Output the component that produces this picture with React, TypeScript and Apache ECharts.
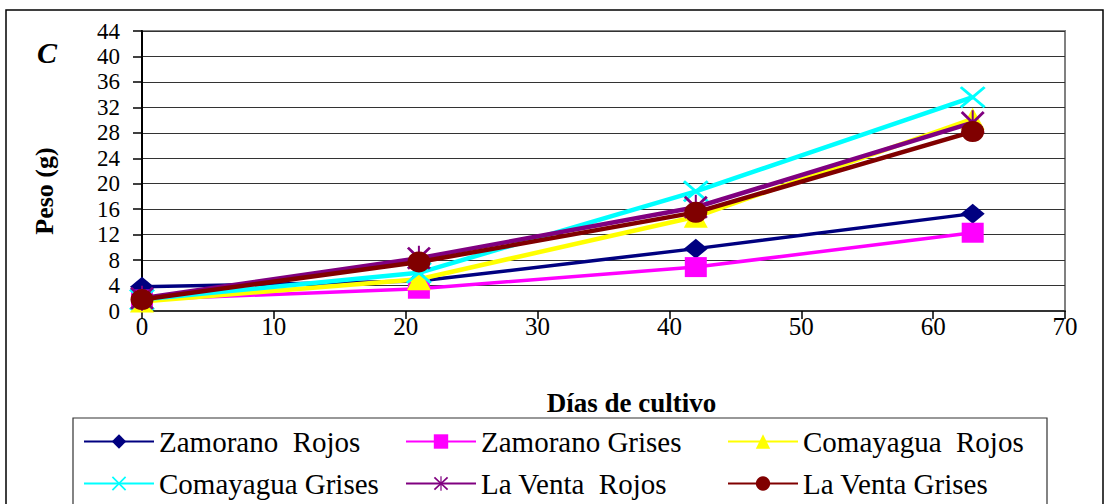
import React, { useEffect, useRef } from "react";
import * as echarts from "echarts";

const days = [0, 21, 42, 63];
const seriesNames = [
  "Zamorano  Rojos",
  "Zamorano Grises",
  "Comayagua  Rojos",
  "Comayagua Grises",
  "La Venta  Rojos",
  "La Venta Grises",
];
const zamoranoRojos = [3.8, 4.7, 9.8, 15.3];
const zamoranoGrises = [1.8, 3.5, 6.9, 12.3];
const comayaguaRojos = [1.5, 5.0, 14.8, 30.2];
const comayaguaGrises = [1.8, 6.0, 18.8, 33.6];
const laVentaRojos = [2.0, 8.3, 16.3, 29.6];
const laVentaGrises = [1.8, 7.7, 15.5, 28.2];
const seriesValues = [
  zamoranoRojos,
  zamoranoGrises,
  comayaguaRojos,
  comayaguaGrises,
  laVentaRojos,
  laVentaGrises,
];
const colors = ["#000080", "#FF00FF", "#FFFF00", "#00FFFF", "#800080", "#800000"];

const X_PATH =
  "path://M0,2L2,0L12,10L22,0L24,2L14,12L24,22L22,24L12,14L2,24L0,22L10,12Z";
const STAR_PATH =
  "path://M0,3L2,1L12,11L22,1L24,3L14,13L24,23L22,25L12,15L2,25L0,23L10,13Z M11,0L13,0L13,26L11,26Z";
const symbols = ["diamond", "rect", "triangle", X_PATH, STAR_PATH, "circle"];
const symbolSizes = [[24, 20], [22, 20], [24, 22], [26, 22], [24, 25], [23, 21]];
const lineWidths = [3.5, 3.5, 4.5, 4.5, 4.5, 4.5];

const FONT = "Liberation Serif";

export default function App() {
  const ref = useRef<HTMLDivElement>(null);
  useEffect(() => {
    if (!ref.current) return;
    const chart = echarts.init(ref.current, null, { renderer: "svg" });
    const colX = [83, 405, 727];
    const rowY = [427, 469];
    const legends = seriesNames.map((name, i) => ({
      data: [name],
      left: colX[i % 3],
      top: rowY[Math.floor(i / 3)],
      orient: "horizontal",
      padding: 0,
      itemWidth: 70,
      itemHeight: 18,
      selectedMode: false,
      textStyle: { fontFamily: FONT, fontSize: 29, color: "#000" },
    }));
    chart.setOption({
      animation: false,
      backgroundColor: "#fff",
      textStyle: { fontFamily: FONT },
      legend: legends,
      grid: {
        left: 142,
        top: 31,
        right: 40,
        bottom: 193,
        show: true,
        borderColor: "#808080",
        borderWidth: 2,
        backgroundColor: "transparent",
      },
      xAxis: {
        type: "value",
        min: 0,
        max: 70,
        interval: 10,
        name: "Días de cultivo",
        nameLocation: "middle",
        nameGap: 78,
        nameTextStyle: {
          fontFamily: FONT,
          fontSize: 27,
          fontWeight: "bold",
          color: "#000",
          padding: [0, 0, 0, 56],
        },
        axisLine: { lineStyle: { color: "#333", width: 2 } },
        axisTick: { show: true, inside: false, length: 8, lineStyle: { color: "#000", width: 1.5 } },
        axisLabel: { fontFamily: FONT, fontSize: 25, color: "#000", margin: 3 },
        splitLine: { show: false },
      },
      yAxis: {
        type: "value",
        min: 0,
        max: 44,
        interval: 4,
        axisLine: { show: true, lineStyle: { color: "#000", width: 2 } },
        axisTick: { show: true, inside: false, length: 9, lineStyle: { color: "#000", width: 1.5 } },
        axisLabel: {
          fontFamily: FONT,
          fontSize: 23,
          lineHeight: 23,
          color: "#000",
          margin: 22,
          showMinLabel: true,
          showMaxLabel: true,
        },
        splitLine: { show: true, lineStyle: { color: "#333", width: 1.2 } },
      },
      graphic: [
        {
          type: "rect",
          silent: true,
          z: -10,
          shape: { x: 6, y: 10, width: 1097, height: 510 },
          style: { fill: "none", stroke: "#000", lineWidth: 1.5 },
        },
        {
          type: "rect",
          silent: true,
          z: -10,
          shape: { x: 73, y: 418, width: 974, height: 100 },
          style: { fill: "none", stroke: "#333", lineWidth: 1.2 },
        },
        {
          type: "text",
          left: 37,
          top: 37,
          style: {
            text: "C",
            fontFamily: FONT,
            fontStyle: "italic",
            fontWeight: "bold",
            fontSize: 30,
            fill: "#000",
          },
        },
        {
          type: "text",
          x: 44,
          y: 191,
          rotation: Math.PI / 2,
          style: {
            text: "Peso (g)",
            fontFamily: FONT,
            fontWeight: "bold",
            fontSize: 26,
            fill: "#000",
            align: "center",
            verticalAlign: "middle",
          },
        },
      ],
      series: seriesNames.map((name, i) => ({
        name,
        type: "line",
        data: days.map((d, j) => [d, seriesValues[i][j]]),
        symbol: symbols[i],
        symbolSize: symbolSizes[i],
        showAllSymbol: true,
        color: colors[i],
        itemStyle: { color: colors[i] },
        lineStyle: { color: colors[i], width: lineWidths[i] },
        z: 2 + i,
      })),
    });
    return () => chart.dispose();
  }, []);
  return (
    <div
      ref={ref}
      style={{ position: "absolute", left: 0, top: 0, width: 1105, height: 504 }}
    />
  );
}
